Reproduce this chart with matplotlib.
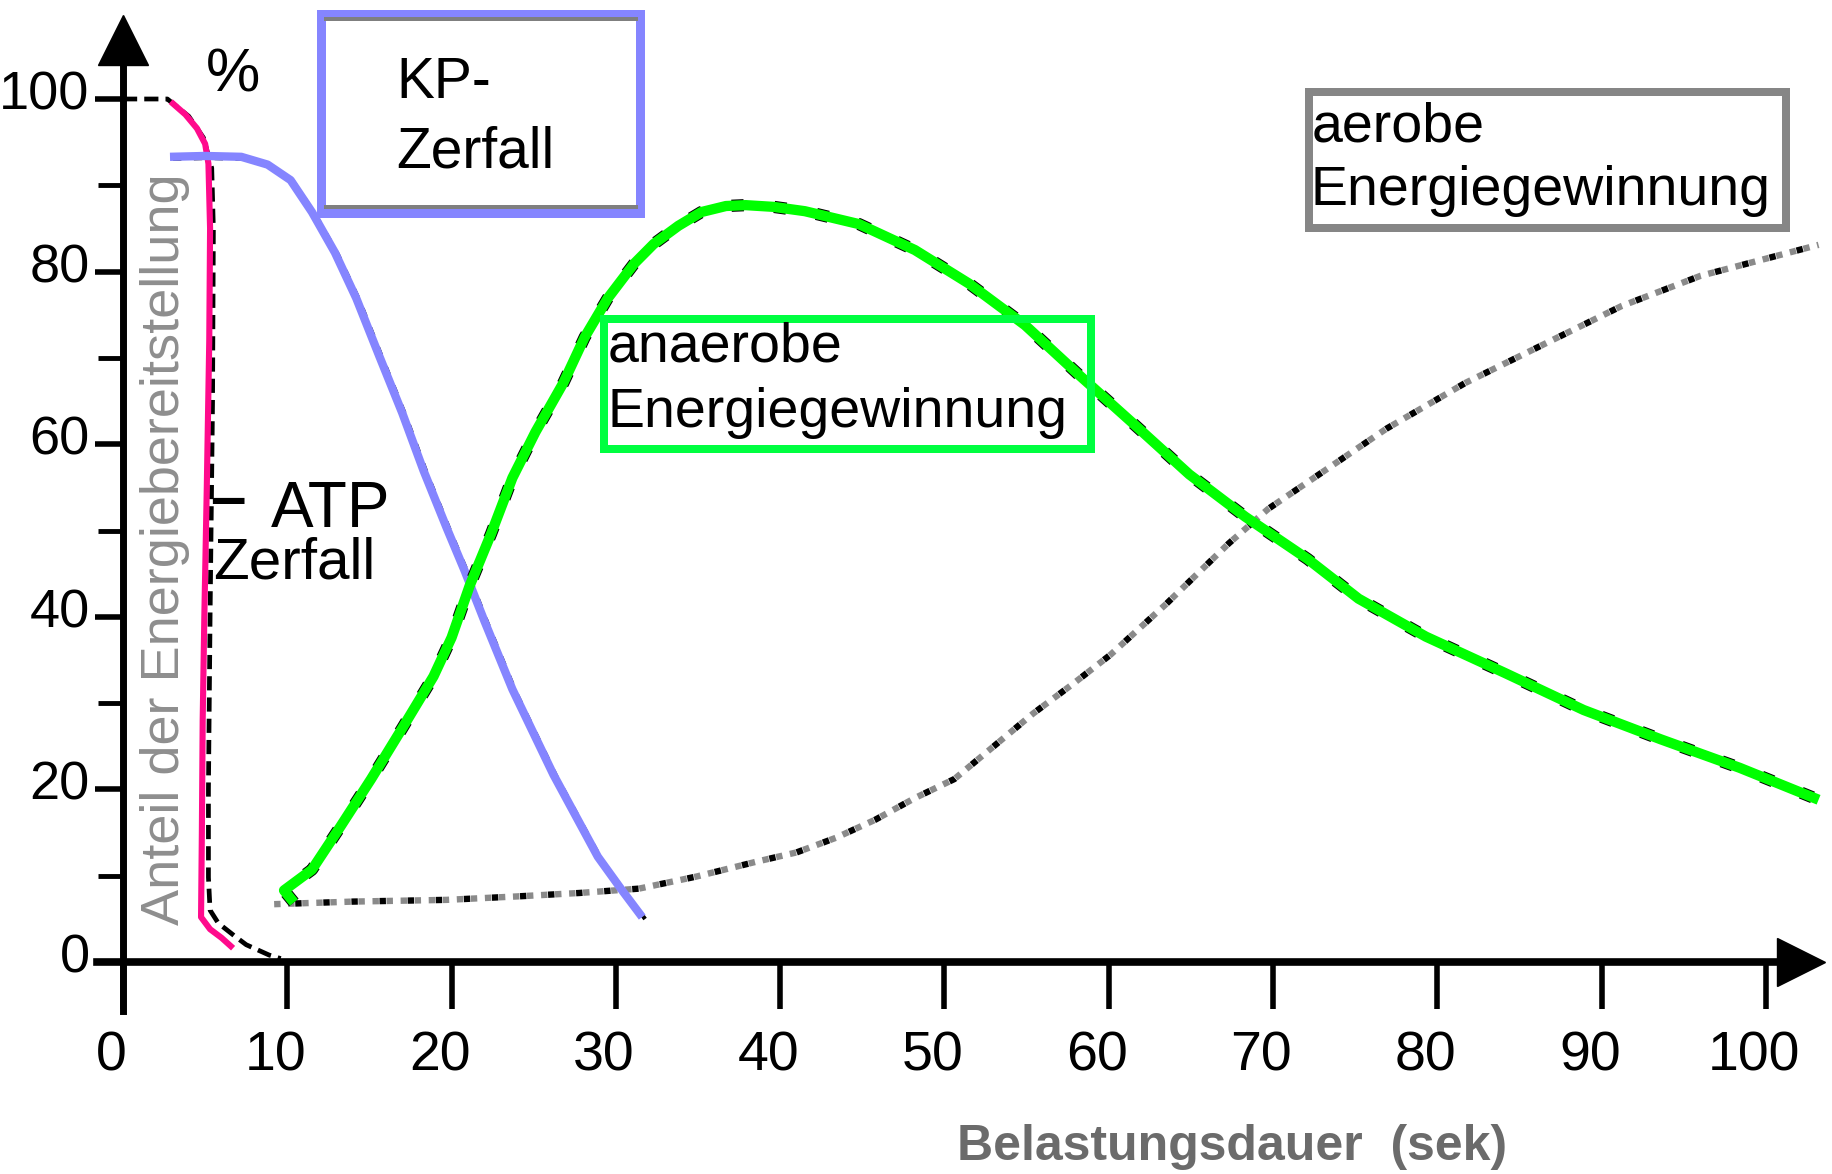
import matplotlib
matplotlib.use("Agg")
import matplotlib.pyplot as plt
from matplotlib.transforms import offset_copy, ScaledTranslation
from matplotlib.patches import Rectangle
from matplotlib.lines import Line2D

# ---------------- data ----------------
x_ticks = [0, 10, 20, 30, 40, 50, 60, 70, 80, 90, 100]
x_tick_labels = ["0", "10", "20", "30", "40", "50", "60", "70", "80", "90", "100"]
y_ticks = [0, 20, 40, 60, 80, 100]
y_tick_labels = ["0", "20", "40", "60", "80", "100"]
y_minor_ticks = [10, 30, 50, 70, 90]

# ATP-Zerfall (pink line)
atp_x = [2.9, 3.8, 4.5, 5.0, 5.2, 5.3, 5.25, 5.1, 4.95, 4.85, 4.8, 4.75, 5.3, 6.0, 6.7]
atp_y = [99.7, 98.2, 96.6, 94.8, 92.5, 85, 72, 55, 40, 28, 15, 5.2, 3.8, 2.8, 1.6]
# printed black ATP curve next to it
atp_print_x = [0, 2.7, 4.0, 4.9, 5.4, 5.5, 5.45, 5.3, 5.2, 5.2, 5.3, 5.8, 6.8, 7.5, 8.9, 9.6]
atp_print_y = [100, 100, 98, 95.5, 92, 85, 65, 40, 20, 9.8, 6.0, 4.5, 3.0, 2.0, 0.8, 0.4]

# KP-Zerfall (blue line)
kp_x = [2.86, 5.0, 7.2, 8.8, 10.2, 11.5, 12.9, 14.2, 15.6, 17.0, 18.3, 19.7, 20.8,
        22.0, 23.7, 26.2, 28.9, 30.3, 31.6]
kp_y = [93.3, 93.4, 93.3, 92.4, 90.6, 86.9, 82.2, 76.9, 70.2, 63.6, 56.9, 50.3, 45.3,
        39.5, 31.6, 21.7, 12.2, 8.5, 5.2]

# anaerobe Energiegewinnung (green line)
an_x = [10.4, 9.8, 11.5, 13.2, 15.1, 17.0, 18.9, 20.0, 21.1, 22.4, 23.7, 25.1, 26.8,
        28.1, 29.5, 31.1, 32.3, 33.8, 35.2, 36.7, 37.9, 39.6, 41.5, 44.8, 48.2, 51.5,
        54.9, 58.2, 61.6, 64.9, 68.3, 72.1, 75.2, 79.3, 84.1, 88.9, 93.6, 98.4, 103.2]
an_y = [6.9, 8.3, 10.7, 15.6, 21.2, 27.1, 33.1, 37.6, 43.6, 49.6, 56.1, 61.4, 67.1,
        72.4, 76.9, 80.9, 83.2, 85.3, 86.9, 87.6, 87.7, 87.5, 87.0, 85.5, 82.5, 78.6,
        73.8, 68.0, 62.2, 56.5, 51.6, 46.7, 42.1, 37.7, 33.5, 29.2, 25.8, 22.5, 18.8]

# aerobe Energiegewinnung (dotted line)
ae_x = [9.2, 14.0, 19.7, 24.0, 27.8, 31.4, 34.9, 38.5, 41.0, 43.4, 45.8, 48.2, 50.6,
        53.0, 55.4, 57.8, 60.1, 63.5, 67.3, 69.7, 72.1, 76.9, 81.7, 86.5, 91.2, 96.0, 103.2]
ae_y = [6.7, 7.0, 7.2, 7.6, 8.0, 8.5, 9.9, 11.6, 12.7, 14.4, 16.5, 19.0, 21.2,
        25.0, 28.8, 32.2, 35.6, 41.5, 48.5, 52.5, 55.6, 61.8, 67.1, 71.6, 76.0, 79.5, 83.1]

# ---------------- figure ----------------
W, H = 1833, 1174
DPI = 100
fig = plt.figure(figsize=(W / DPI, H / DPI), dpi=DPI, facecolor="white")
ax = fig.add_axes([0, 0, 1, 1])
ax.set_facecolor("white")

PX, PY, X0, Y0 = 16.43, 8.63, 123, 962   # pixel scale of the axes
ax.set_xlim(-X0 / PX, (W - X0) / PX)
ax.set_ylim(-(H - Y0) / PY, Y0 / PY)

SANS = ["Liberation Sans", "DejaVu Sans"]

for s in ["top", "right"]:
    ax.spines[s].set_visible(False)
ax.spines["left"].set_position(("data", 0))
ax.spines["bottom"].set_position(("data", 0))
ax.spines["left"].set_bounds(-5.7, 104.5)
ax.spines["bottom"].set_bounds(-1.6, 101)
ax.spines["left"].set_linewidth(5)
ax.spines["bottom"].set_linewidth(5.5)

# arrow heads
ax.plot([0], [106.8], marker="^", markersize=36, color="black", clip_on=False, zorder=6)
ax.plot([102.1], [0], marker=">", markersize=34, color="black", clip_on=False, zorder=6)

ax.set_xticks(x_ticks)
ax.set_xticklabels(x_tick_labels)
ax.set_yticks(y_ticks)
ax.set_yticklabels(y_tick_labels)
ax.set_yticks(y_minor_ticks, minor=True)
ax.tick_params(axis="x", direction="out", length=34, width=4, pad=15,
               labelsize=40, colors="black")
ax.tick_params(axis="y", which="major", direction="out", length=20, width=4, pad=4,
               labelsize=39, colors="black")
ax.tick_params(axis="y", which="minor", direction="out", length=18, width=3.5)
for lab in ax.get_xticklabels():
    lab.set_family(SANS)
    lab.set_transform(lab.get_transform() + ScaledTranslation(-12 / DPI, 0, fig.dpi_scale_trans))
for lab in ax.get_yticklabels():
    lab.set_family(SANS)
    lab.set_transform(lab.get_transform() + ScaledTranslation(0, 9 / DPI, fig.dpi_scale_trans))

shadow = offset_copy(ax.transData, fig=fig, x=3, y=-2, units="dots")

# aerobic dotted curve: alternating grey and black dashes
ax.plot(ae_x, ae_y, color="#8a8a8a", lw=4.6, linestyle=(0, (1.0, 1.2)),
        solid_capstyle="butt", zorder=3)
ax.plot(ae_x, ae_y, color="black", lw=4.6, linestyle=(1.1, (1.0, 3.4)),
        solid_capstyle="butt", zorder=3)

# ATP printed black curve
ax.plot(atp_print_x, atp_print_y, color="black", lw=3.4, linestyle=(0, (3, 1.5)), zorder=3)
# ATP pink
ax.plot(atp_x, atp_y, color="#FF0A8C", lw=4.4, zorder=4, solid_capstyle="butt")

# KP blue with black print shadow
ax.plot(kp_x, kp_y, color="black", lw=3.0, linestyle=(0, (2, 3)), transform=shadow, zorder=4)
ax.plot(kp_x, kp_y, color="#8585FF", lw=6.0, zorder=5, solid_capstyle="butt")

# anaerobic green with black speckles
ax.plot(an_x, an_y, color="black", lw=8.8, linestyle=(0, (1, 2.5)), zorder=5)
ax.plot(an_x, an_y, color="#00FF00", lw=7.4, zorder=6, solid_capstyle="butt")


def fx(x):
    return x / W


def fy(y):
    return 1 - y / H


def box(x0, y0, x1, y1, color, lw_px):
    r = Rectangle((fx(x0), fy(y1)), fx(x1) - fx(x0), fy(y0) - fy(y1),
                  transform=fig.transFigure, fill=False, edgecolor=color,
                  linewidth=lw_px * 72 / DPI, zorder=7, joinstyle="miter")
    fig.patches.append(r)


def hline(x0, x1, y, color, lw_px):
    fig.add_artist(Line2D([fx(x0), fx(x1)], [fy(y), fy(y)], transform=fig.transFigure,
                          color=color, linewidth=lw_px * 72 / DPI, zorder=8))


# KP box
box(321.5, 14.5, 640.5, 213.5, "#8585FF", 9)
hline(326, 636, 19, "#7f7f7f", 4)
hline(326, 636, 207, "#7f7f7f", 4)
# anaerobe box
box(604, 319, 1091, 449, "#00FF40", 8)
# aerobe box
box(1309, 92, 1786, 228, "#868686", 8)


def ftext(x, y, s, size, family=SANS, color="black", weight="normal", **kw):
    fig.text(fx(x), fy(y), s, fontsize=size, family=family, color=color,
             weight=weight, va="baseline", ha="left", zorder=9, **kw)


ftext(396, 98, "KP-", 41)
ftext(396, 168, "Zerfall", 41)
ftext(608, 362, "anaerobe", 40)
ftext(608, 427, "Energiegewinnung", 40)
ftext(1312, 142, "aerobe", 40)
ftext(1311, 205, "Energiegewinnung", 40)
ftext(210, 518, "\u2013", 46, weight="bold")
ftext(271, 527, "ATP", 46)
ftext(213, 578, "Zerfall", 42)
ftext(206, 92, "%", 44)

# axis titles
fig.text(fx(1232), fy(1160), "Belastungsdauer  (sek)", fontsize=36, family=SANS,
         weight="bold", color="#6b6b6b", ha="center", va="baseline")
fig.text(fx(165), fy(549), "Anteil der Energiebereitstellung", fontsize=39, family=SANS,
         color="#8e8e8e", rotation=90, ha="center", va="center")

fig.savefig("out.png", dpi=DPI, facecolor="white")
